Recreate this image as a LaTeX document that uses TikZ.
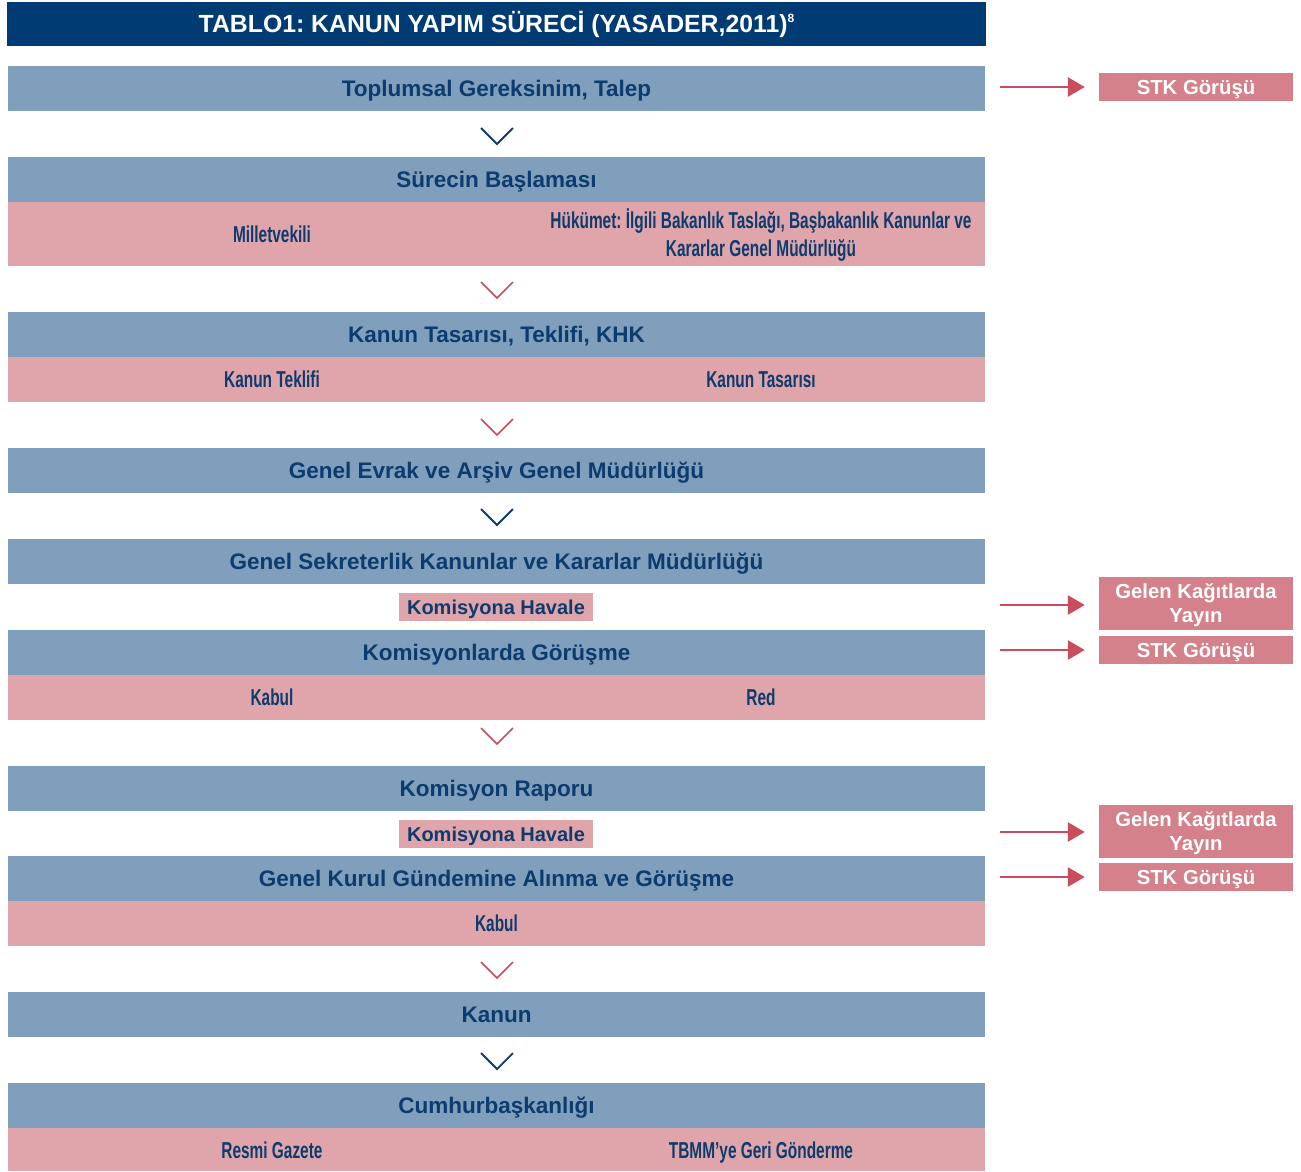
\documentclass[tikz,border=0pt]{standalone}
\usepackage{fontspec}
\setmainfont{Liberation Sans}
\newfontfamily\condfont[FakeStretch=0.67]{Liberation Sans Bold}
\usetikzlibrary{arrows.meta}
\frenchspacing
\definecolor{navy}{HTML}{003B73}
\definecolor{textnavy}{HTML}{0C3B6E}
\definecolor{barblue}{HTML}{809FBC}
\definecolor{rowpink}{HTML}{E0A5AB}
\definecolor{boxpink}{HTML}{D5818B}
\definecolor{arrred}{HTML}{C94D5C}
\tikzset{
  bar/.style={text height=16.1pt, text depth=0pt, fill=barblue, minimum width=977pt, minimum height=45pt, inner sep=0pt, text=textnavy, font=\frenchspacing\bfseries\fontsize{22.5}{26}\selectfont},
  pinkrow/.style={fill=rowpink, minimum width=977pt, inner sep=0pt},
  celltext/.style={text height=16.5pt, text depth=0pt, text=textnavy, font=\frenchspacing\condfont\fontsize{23}{28}\selectfont, align=center, inner sep=0pt},
  havale/.style={text height=14.3pt, text depth=0pt, fill=rowpink, minimum width=194pt, minimum height=28pt, inner sep=0pt, text=textnavy, font=\bfseries\fontsize{20}{22}\selectfont},
  sidebox/.style={text height=14.5pt, text depth=0pt, fill=boxpink, minimum width=194pt, inner sep=0pt, text=white, align=center, font=\bfseries\fontsize{20.3}{24}\selectfont},
  chevblue/.style={draw=textnavy, line width=1.8pt},
  chevred/.style={draw=arrred, line width=1.6pt},
  sidearrow/.style={draw=arrred, line width=2.8pt, -{Triangle[length=17pt,width=19pt]}, shorten >=14pt}
}
\newcommand{\chev}[3]{\draw[#1] (#2-16,#3) -- (#2,#3+16) -- (#2+16,#3);}
\begin{document}
\begin{tikzpicture}[x=1pt,y=-1pt]
\useasboundingbox (0,0) rectangle (1301,1171);
% title
\node[text height=17.7pt, text depth=0pt, fill=navy, minimum width=979pt, minimum height=44pt, inner sep=0pt, text=white, font=\frenchspacing\bfseries\fontsize{24.8}{26}\selectfont] (title) at (496.5,24) {TABLO1: KANUN YAPIM SÜRECİ (YASADER,2011)\raisebox{0.42em}{\fontsize{12}{12}\selectfont 8}};
% row 1
\node[bar] (r1) at (496.5,88.5) {Toplumsal Gereksinim, Talep};
\chev{chevblue}{497}{128}
% row 2
\node[bar] (r2) at (496.5,179.5) {Sürecin Başlaması};
\node[pinkrow, minimum height=64pt] (p2) at (496.5,234) {};
\node[celltext] (p2a) at (272,234) {Milletvekili};
\node[celltext, text height=44.5pt] (p2b) at (761,234.5) {Hükümet: İlgili Bakanlık Taslağı, Başbakanlık Kanunlar ve\\Kararlar Genel Müdürlüğü};
\chev{chevred}{497}{282}
% row 3
\node[bar] (r3) at (496.5,334.5) {Kanun Tasarısı, Teklifi, KHK};
\node[pinkrow, minimum height=45pt] (p3) at (496.5,379.5) {};
\node[celltext] (p3a) at (272,379.5) {Kanun Teklifi};
\node[celltext] (p3b) at (761,379.5) {Kanun Tasarısı};
\chev{chevred}{497}{419}
% row 4
\node[bar] (r4) at (496.5,470.5) {Genel Evrak ve Arşiv Genel Müdürlüğü};
\chev{chevblue}{497}{509}
% row 5
\node[bar] (r5) at (496.5,561.5) {Genel Sekreterlik Kanunlar ve Kararlar Müdürlüğü};
\node[havale] (h1) at (496,607) {Komisyona Havale};
% row 6
\node[bar] (r6) at (496.5,652) {Komisyonlarda Görüşme};
\node[pinkrow, minimum height=45pt] (p6) at (496.5,697) {};
\node[celltext] (p6a) at (272,697) {Kabul};
\node[celltext] (p6b) at (761,697) {Red};
\chev{chevred}{497}{728}
% row 7
\node[bar] (r7) at (496.5,788.5) {Komisyon Raporu};
\node[havale] (h2) at (496,834) {Komisyona Havale};
% row 8
\node[bar] (r8) at (496.5,878.5) {Genel Kurul Gündemine Alınma ve Görüşme};
\node[pinkrow, minimum height=45pt] (p8) at (496.5,923.5) {};
\node[celltext] (p8a) at (496.5,923.5) {Kabul};
\chev{chevred}{497}{962}
% row 9
\node[bar] (r9) at (496.5,1014.5) {Kanun};
\chev{chevblue}{497}{1053}
% row 10
\node[bar] (r10) at (496.5,1105.5) {Cumhurbaşkanlığı};
\node[pinkrow, minimum height=43pt] (p10) at (496.5,1149.5) {};
\node[celltext] (p10a) at (272,1150.5) {Resmi Gazete};
\node[celltext] (p10b) at (761,1150.5) {TBMM’ye Geri Gönderme};
% side boxes
\node[sidebox, minimum height=28pt] (s1) at (1196,87) {STK Görüşü};
\node[sidebox, text height=38.5pt, minimum height=53pt] (s2) at (1196,603.5) {Gelen Kağıtlarda\\Yayın};
\node[sidebox, minimum height=28pt] (s3) at (1196,650) {STK Görüşü};
\node[sidebox, text height=38.5pt, minimum height=53pt] (s4) at (1196,831.5) {Gelen Kağıtlarda\\Yayın};
\node[sidebox, minimum height=28pt] (s5) at (1196,877) {STK Görüşü};
\coordinate (a1) at (1000,87);
\coordinate (a2) at (1000,605);
\coordinate (a3) at (1000,650);
\coordinate (a4) at (1000,832);
\coordinate (a5) at (1000,877);
\draw[sidearrow] (a1) -- (a1 -| s1.west);
\draw[sidearrow] (a2) -- (a2 -| s2.west);
\draw[sidearrow] (a3) -- (a3 -| s3.west);
\draw[sidearrow] (a4) -- (a4 -| s4.west);
\draw[sidearrow] (a5) -- (a5 -| s5.west);
\end{tikzpicture}
\end{document}
